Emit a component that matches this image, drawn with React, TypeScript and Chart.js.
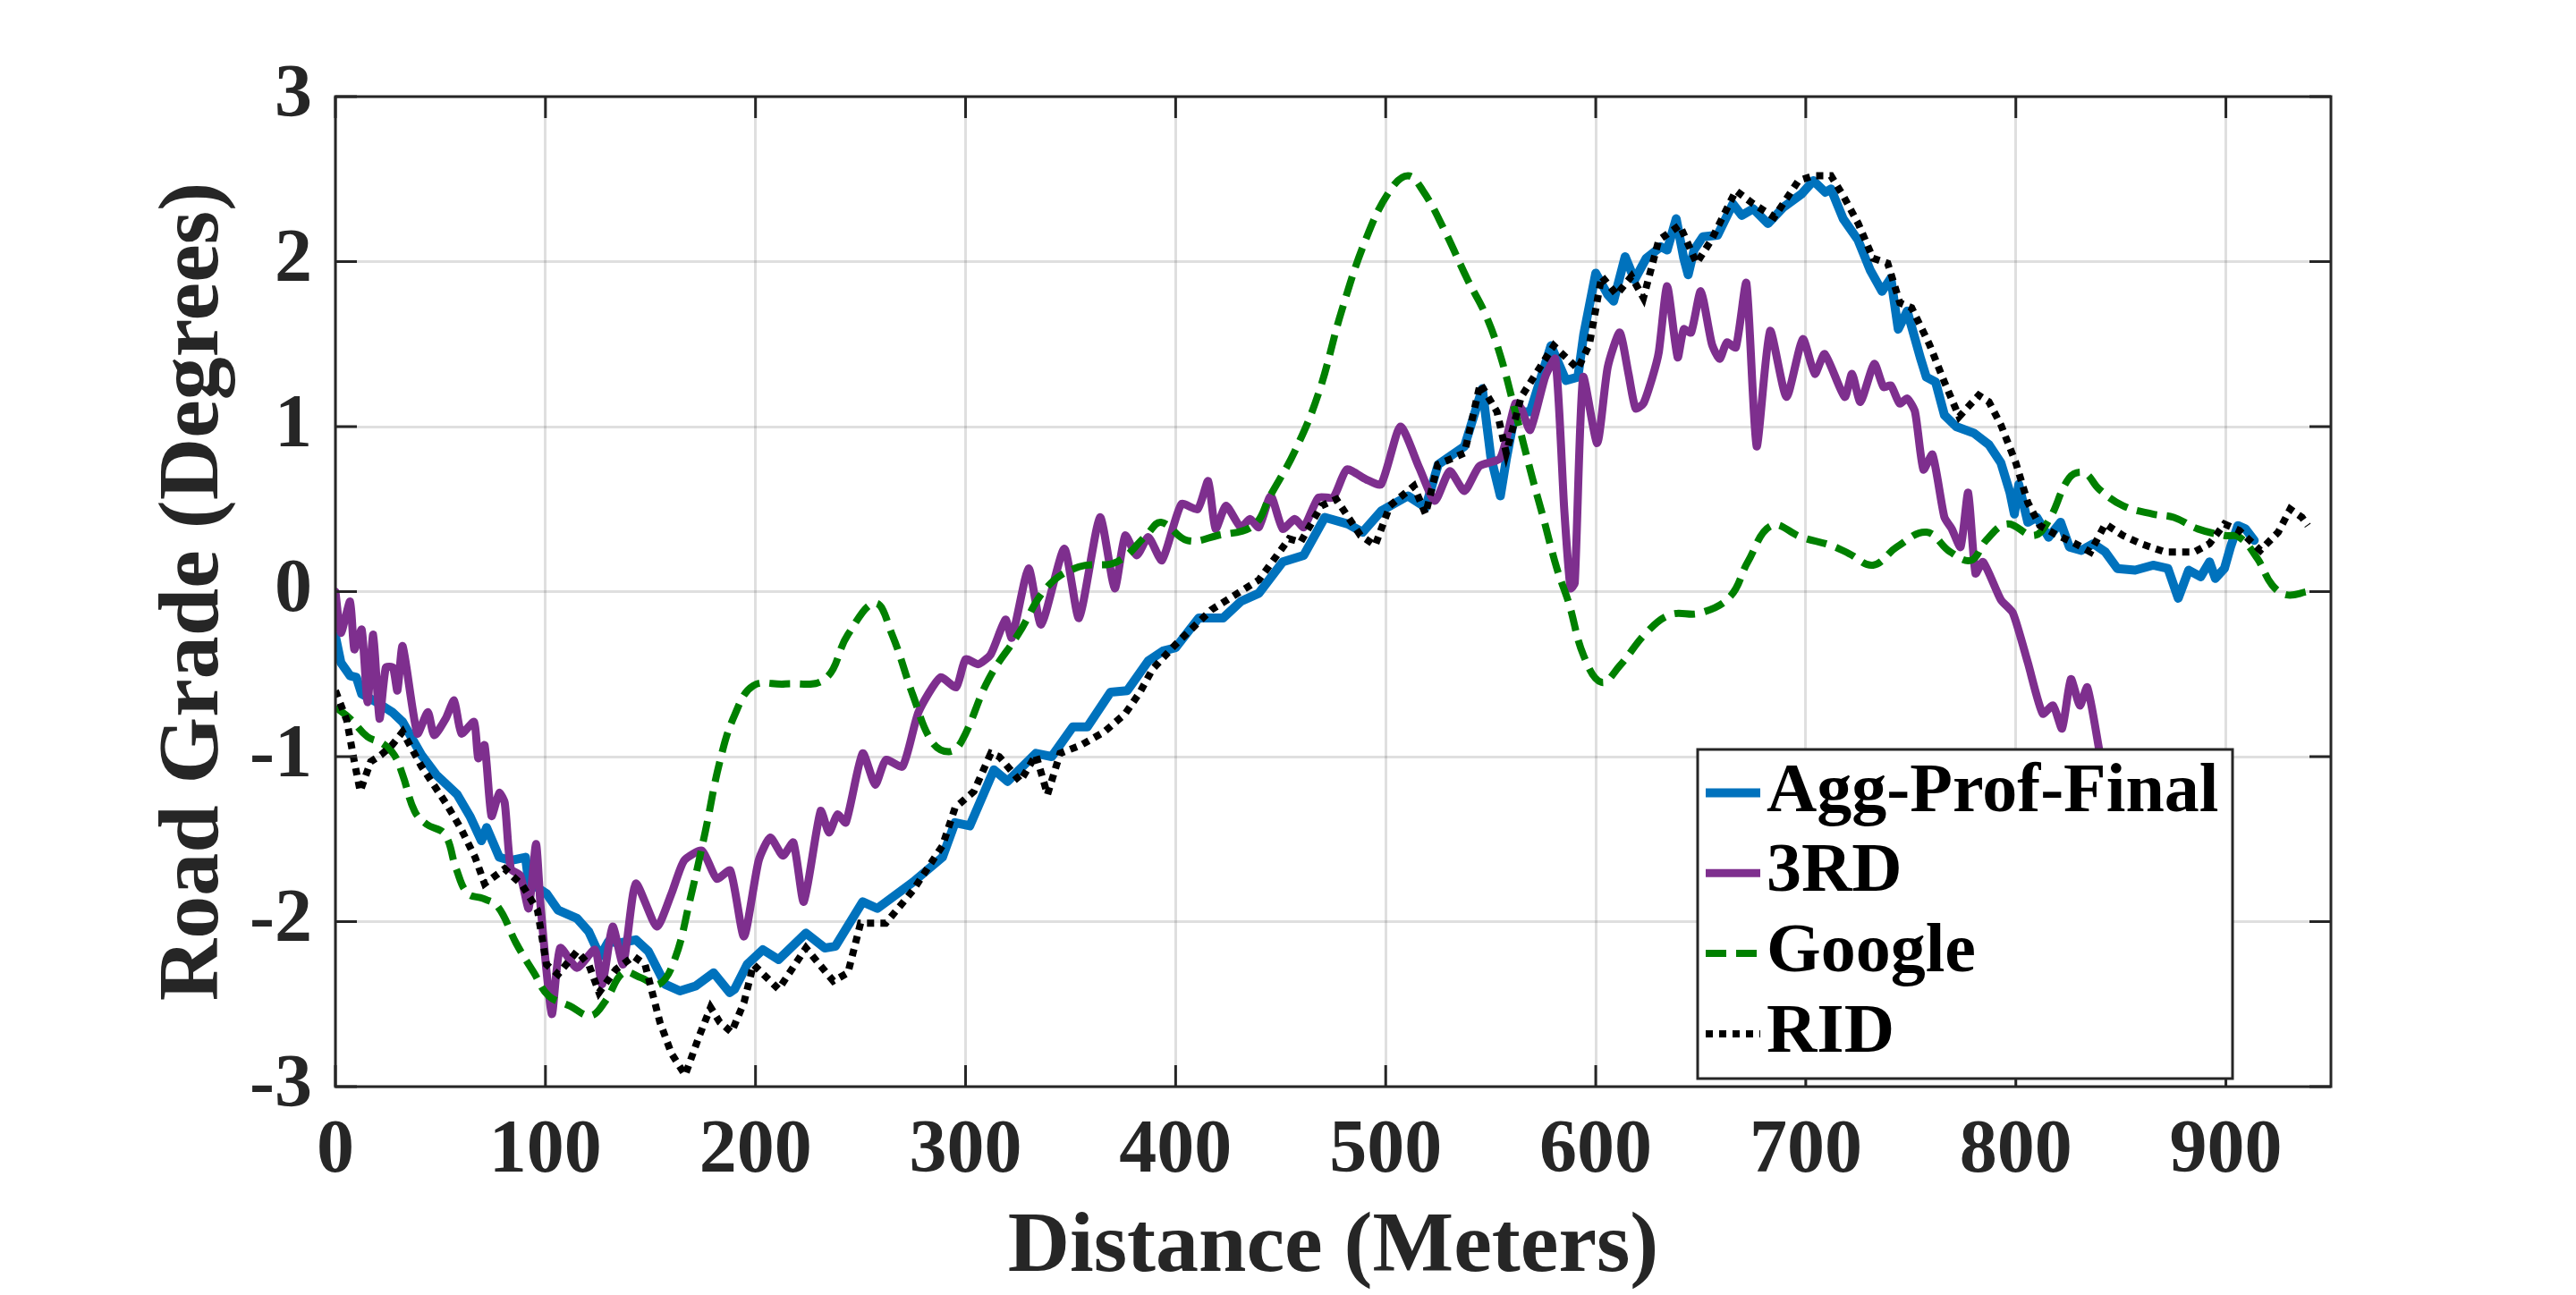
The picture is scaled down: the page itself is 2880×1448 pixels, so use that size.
import { useEffect, useRef } from "react";
import { Chart, registerables } from "chart.js";
import type { ChartConfiguration, Plugin } from "chart.js";

Chart.register(...registerables);

// Distance (m) / road grade (deg)
const aggDist = [
  0, 2.6, 7, 10, 12.5, 19.6, 27, 32, 41, 48, 58, 64, 69.5, 72, 78, 83.5, 90.5, 92, 100.5, 106, 115, 120.6, 126, 130,
  135, 143, 149, 157, 164, 171.5, 180, 187.7, 190, 196, 203.5, 211, 224, 233, 238, 251, 258, 275, 289, 295, 302,
  313.5, 320, 333.5, 341, 351, 358, 369, 377, 387, 394, 400, 411, 422.6, 431, 439.6, 451, 461, 471, 482, 489, 498,
  510.6, 519, 525, 537.5, 546, 550, 554.6, 557.4, 561.7, 568.8, 578.7, 585.8, 591.5, 594.3, 600, 605.7, 608.5, 614,
  618.5, 624, 631, 634, 638.3, 641.9, 644, 646.8, 651, 658, 665.3, 669.5, 675, 682, 689.4, 698, 703.6, 709.3, 712,
  717.8, 724.9, 730.6, 736.3, 740.5, 744, 748.3, 754.7, 757.4, 761.8, 766, 771.6, 780.1, 787.2, 792.9, 797.2, 799.3,
  801.4, 805.7, 810, 815.6, 821.3, 825.5, 831.2, 836.9, 842.6, 848.3, 856.8, 865.3, 872.4, 877.3, 882.3, 888, 892.2,
  895, 899.3, 902.2, 905.7, 909.3, 913.5,
];
const aggGrade = [
  -0.27, -0.43, -0.51, -0.52, -0.62, -0.67, -0.73, -0.79, -0.99, -1.11, -1.23, -1.36, -1.51, -1.43, -1.61, -1.63,
  -1.61, -1.76, -1.83, -1.93, -1.98, -2.06, -2.21, -2.12, -2.13, -2.11, -2.18, -2.38, -2.42, -2.39, -2.31, -2.43,
  -2.41, -2.26, -2.17, -2.23, -2.07, -2.16, -2.15, -1.88, -1.92, -1.76, -1.61, -1.4, -1.42, -1.08, -1.15, -0.98, -1.0,
  -0.82, -0.82, -0.61, -0.6, -0.42, -0.36, -0.34, -0.16, -0.16, -0.06, -0.01, 0.18, 0.22, 0.45, 0.41, 0.36, 0.49,
  0.58, 0.51, 0.77, 0.88, 1.23, 0.82, 0.58, 0.8, 1.09, 1.09, 1.49, 1.28, 1.3, 1.56, 1.93, 1.8, 1.76, 2.03, 1.89, 2.02,
  2.09, 2.07, 2.26, 2.02, 1.92, 2.07, 2.15, 2.16, 2.35, 2.28, 2.32, 2.23, 2.33, 2.41, 2.49, 2.42, 2.44, 2.26, 2.13,
  1.95, 1.82, 1.9, 1.59, 1.7, 1.41, 1.3, 1.27, 1.07, 1.0, 0.96, 0.89, 0.78, 0.6, 0.47, 0.65, 0.42, 0.45, 0.33, 0.42,
  0.27, 0.25, 0.29, 0.24, 0.14, 0.13, 0.16, 0.14, -0.04, 0.13, 0.09, 0.18, 0.08, 0.14, 0.27, 0.4, 0.38, 0.31,
];

const thirdDist = [
  0, 2.6, 7, 9, 12.5, 15.3, 18, 21, 24, 27.4, 29.5, 32, 39, 44, 47, 52.5, 56.5, 60, 66, 68, 71, 74.3, 78, 80.6, 83.5,
  88, 92, 95.5, 97.7, 103, 107, 115, 123.5, 127, 132, 137, 143, 153, 160, 166, 174.5, 181.5, 188, 194.5, 201.5, 207,
  213, 218, 223, 231, 235, 239, 243, 251, 257, 262, 270, 277.6, 288, 295.5, 300, 306, 312, 319, 322, 330, 336, 347,
  354, 364, 371, 376, 381.5, 387, 393.5, 402.7, 410.5, 415.5, 419, 424, 431, 435.4, 439.6, 445.3, 451, 456.7, 461,
  468, 475, 481.5, 490.7, 497.8, 507, 516, 523.4, 530.5, 537.5, 544.6, 554.6, 561.7, 564.5, 568.8, 575.9, 580.8, 585,
  588, 590, 594, 600.7, 605.7, 611.4, 615.6, 619, 622.7, 627, 630, 634, 639, 641.9, 645.4, 650, 655.3, 659, 662.4,
  666.7, 671.7, 676.6, 683, 690.8, 698.6, 704.3, 709, 718.5, 722, 726, 732.6, 737, 740.5, 744.7, 748.3, 752, 756,
  760.3, 766, 769.5, 773.7, 777.3, 780.8, 784.4, 792.9, 798.6, 805.7, 812.8, 817.7, 822, 826.2, 830.5, 834, 839.7,
  843,
];
const thirdGrade = [
  0.0, -0.25, -0.06, -0.35, -0.23, -0.67, -0.26, -0.77, -0.46, -0.46, -0.6, -0.33, -0.86, -0.73, -0.87, -0.77, -0.66,
  -0.86, -0.79, -1.01, -0.93, -1.36, -1.22, -1.28, -1.68, -1.72, -1.92, -1.53, -1.91, -2.56, -2.16, -2.28, -2.17,
  -2.38, -2.03, -2.26, -1.77, -2.03, -1.83, -1.63, -1.57, -1.74, -1.69, -2.09, -1.63, -1.49, -1.6, -1.52, -1.88,
  -1.33, -1.46, -1.35, -1.4, -0.98, -1.17, -1.02, -1.06, -0.73, -0.52, -0.58, -0.41, -0.44, -0.38, -0.17, -0.28, 0.14,
  -0.2, 0.26, -0.16, 0.45, 0.02, 0.34, 0.22, 0.33, 0.19, 0.53, 0.5, 0.67, 0.38, 0.52, 0.39, 0.44, 0.39, 0.58, 0.38,
  0.44, 0.39, 0.57, 0.57, 0.74, 0.68, 0.65, 1.0, 0.75, 0.55, 0.73, 0.61, 0.76, 0.81, 1.14, 1.11, 0.98, 1.3, 1.41, 0.5,
  0.02, 0.05, 1.3, 0.9, 1.36, 1.57, 1.32, 1.11, 1.14, 1.3, 1.45, 1.85, 1.42, 1.59, 1.57, 1.82, 1.5, 1.41, 1.51, 1.48,
  1.87, 0.88, 1.58, 1.18, 1.53, 1.32, 1.44, 1.18, 1.32, 1.15, 1.38, 1.24, 1.25, 1.14, 1.17, 1.09, 0.74, 0.83, 0.45,
  0.38, 0.27, 0.6, 0.11, 0.18, -0.05, -0.13, -0.43, -0.74, -0.69, -0.83, -0.53, -0.69, -0.58, -0.96, -1.2,
];

const googleDist = [
  0, 7, 15.3, 22.4, 28, 32, 37.7, 43.4, 52, 57.5, 63, 70.3, 77.4, 86, 94.5, 101.5, 111.5, 121.5, 128.6, 137, 145.5,
  154, 161.5, 168.6, 176, 183, 190, 199, 214, 233, 244, 257, 265, 275, 284, 292, 298, 311, 325, 339, 354, 372, 386,
  393, 405.6, 420, 437, 445, 456.7, 468, 479, 490.7, 502, 510.6, 517.7, 527.6, 539, 547.5, 554.6, 561.7, 570, 575,
  581.5, 587.2, 594.3, 602.8, 611.4, 624, 635.5, 649.7, 664, 672.4, 683.7, 697.9, 712, 720.6, 732, 743.3, 757.5,
  768.8, 778.7, 785.8, 795.7, 808.5, 815.6, 825.5, 832.6, 839.7, 851.1, 865.3, 875.2, 886.6, 899.3, 906.4, 915, 922,
  929, 939,
];
const googleGrade = [
  -0.7, -0.77, -0.88, -0.92, -0.99, -1.11, -1.33, -1.41, -1.47, -1.68, -1.83, -1.86, -1.91, -2.13, -2.31, -2.45,
  -2.51, -2.57, -2.48, -2.31, -2.34, -2.38, -2.23, -1.88, -1.46, -1.03, -0.75, -0.57, -0.56, -0.53, -0.26, -0.07,
  -0.26, -0.63, -0.91, -0.97, -0.91, -0.53, -0.26, 0.03, 0.15, 0.18, 0.34, 0.42, 0.31, 0.34, 0.4, 0.58, 0.85, 1.2,
  1.7, 2.14, 2.43, 2.52, 2.43, 2.2, 1.89, 1.68, 1.43, 1.09, 0.68, 0.45, 0.14, -0.07, -0.39, -0.55, -0.45, -0.25, -0.14,
  -0.13, -0.03, 0.18, 0.4, 0.33, 0.28, 0.23, 0.16, 0.27, 0.36, 0.24, 0.19, 0.31, 0.41, 0.34, 0.43, 0.69, 0.72, 0.62,
  0.52, 0.47, 0.45, 0.38, 0.34, 0.33, 0.2, 0.04, -0.02, 0.0,
];

const ridDist = [
  0, 5.4, 9, 11.8, 16.8, 21.7, 27, 32, 41, 52.5, 59.5, 66.5, 71, 80.6, 89, 96.2, 100.5, 106, 115, 120.6, 125.5, 133.5,
  142, 147.4, 154.5, 160, 166.5, 173, 178.6, 183, 188.6, 194.5, 199, 211, 224, 237, 244, 250, 262, 275, 289, 295, 304,
  312, 316, 326, 333.5, 339, 345, 355, 366, 376, 383, 389, 400, 417, 439.6, 454, 459.5, 469.4, 476.5, 488, 495, 502,
  513.4, 519, 524.8, 537.5, 545, 553, 557.4, 564.5, 580, 591.5, 597, 602.8, 610, 617, 622.7, 630, 640, 648, 655,
  666.7, 675, 685, 696.5, 703.6, 712, 717.8, 725, 732, 739, 744.8, 750.4, 758.8, 766, 773, 782.3, 787.2, 792.9, 800,
  805.7, 811.4, 818.5, 828.4, 835.5, 842.6, 851, 859.6, 871, 885, 892.2, 899.3, 906.4, 916.4, 924.9, 930.6, 936.2,
  939,
];
const ridGrade = [
  -0.6, -0.78, -1.03, -1.21, -1.03, -0.99, -0.93, -0.85, -1.06, -1.28, -1.43, -1.61, -1.77, -1.68, -1.78, -1.93,
  -2.26, -2.32, -2.18, -2.26, -2.43, -2.29, -2.21, -2.26, -2.61, -2.8, -2.93, -2.7, -2.52, -2.61, -2.67, -2.49, -2.26,
  -2.41, -2.16, -2.36, -2.31, -2.01, -2.01, -1.81, -1.54, -1.31, -1.21, -0.98, -1.0, -1.15, -0.99, -1.23, -0.98,
  -0.93, -0.85, -0.74, -0.61, -0.47, -0.32, -0.11, 0.07, 0.32, 0.3, 0.52, 0.56, 0.34, 0.28, 0.52, 0.64, 0.47, 0.77,
  0.84, 1.26, 1.09, 0.84, 1.18, 1.49, 1.35, 1.5, 1.91, 1.8, 1.91, 1.78, 2.13, 2.22, 1.99, 2.13, 2.43, 2.35, 2.27, 2.49,
  2.52, 2.52, 2.4, 2.23, 2.02, 1.99, 1.75, 1.72, 1.5, 1.27, 1.06, 1.19, 1.15, 1.01, 0.78, 0.54, 0.4, 0.35, 0.29, 0.24,
  0.41, 0.34, 0.29, 0.24, 0.24, 0.29, 0.41, 0.37, 0.25, 0.36, 0.5, 0.45, 0.4,
];

const seriesLabels = ["Agg-Prof-Final", "3RD", "Google", "RID"];
const xTickValues = [0, 100, 200, 300, 400, 500, 600, 700, 800, 900];
const yTickValues = [-3, -2, -1, 0, 1, 2, 3];

const FONT = "'Liberation Serif', 'Times New Roman', serif";
const AXIS_COLOR = "#262626";
const TICK_LEN = 24;

const toPoints = (xs: number[], ys: number[]) => xs.map((x, i) => ({ x, y: ys[i] }));

// MATLAB style box with inward ticks on all four sides
const axesBoxPlugin: Plugin<"line"> = {
  id: "axesBox",
  afterDatasetsDraw(chart) {
    const { ctx, chartArea: a, scales } = chart;
    ctx.save();
    ctx.setLineDash([]);
    ctx.strokeStyle = AXIS_COLOR;
    ctx.lineWidth = 3;
    ctx.beginPath();
    for (const v of xTickValues) {
      const px = scales.x.getPixelForValue(v);
      ctx.moveTo(px, a.bottom);
      ctx.lineTo(px, a.bottom - TICK_LEN);
      ctx.moveTo(px, a.top);
      ctx.lineTo(px, a.top + TICK_LEN);
    }
    for (const v of yTickValues) {
      const py = scales.y.getPixelForValue(v);
      ctx.moveTo(a.left, py);
      ctx.lineTo(a.left + TICK_LEN, py);
      ctx.moveTo(a.right, py);
      ctx.lineTo(a.right - TICK_LEN, py);
    }
    ctx.stroke();
    ctx.strokeRect(a.left, a.top, a.right - a.left, a.bottom - a.top);
    ctx.restore();
  },
};

// legend box in the lower right of the axes
const boxLegendPlugin: Plugin<"line"> = {
  id: "boxLegend",
  afterDraw(chart) {
    const { ctx, chartArea: a } = chart;
    const right = a.right - 110;
    const left = right - 598;
    const bottom = a.bottom - 9;
    const top = bottom - 368;
    ctx.save();
    ctx.fillStyle = "#ffffff";
    ctx.fillRect(left, top, right - left, bottom - top);
    ctx.setLineDash([]);
    ctx.strokeStyle = AXIS_COLOR;
    ctx.lineWidth = 3;
    ctx.strokeRect(left, top, right - left, bottom - top);
    ctx.font = `bold 78px ${FONT}`;
    ctx.textBaseline = "middle";
    ctx.textAlign = "left";
    chart.data.datasets.forEach((ds: any, i) => {
      const cy = top + 48.5 + i * 89.8;
      ctx.beginPath();
      ctx.strokeStyle = ds.borderColor;
      ctx.lineWidth = ds.borderWidth;
      ctx.lineCap = "butt";
      ctx.setLineDash(ds.borderDash ?? []);
      ctx.moveTo(left + 9, cy);
      ctx.lineTo(left + 70, cy);
      ctx.stroke();
      ctx.setLineDash([]);
      ctx.fillStyle = "#000000";
      ctx.fillText(String(ds.label), left + 77, cy);
    });
    ctx.restore();
  },
};

export default function App() {
  const canvasRef = useRef<HTMLCanvasElement | null>(null);

  useEffect(() => {
    if (!canvasRef.current) return;

    const config: ChartConfiguration<"line"> = {
      type: "line",
      data: {
        datasets: [
          {
            label: seriesLabels[0],
            data: toPoints(aggDist, aggGrade),
            borderColor: "#0072BD",
            borderWidth: 10,
            borderJoinStyle: "round",
            borderCapStyle: "round",
            tension: 0,
            pointRadius: 0,
            order: 3,
          },
          {
            label: seriesLabels[1],
            data: toPoints(thirdDist, thirdGrade),
            borderColor: "#7E2F8E",
            borderWidth: 9,
            borderJoinStyle: "round",
            borderCapStyle: "round",
            tension: 0.2,
            pointRadius: 0,
            order: 2,
          },
          {
            label: seriesLabels[2],
            data: toPoints(googleDist, googleGrade),
            borderColor: "#008000",
            borderWidth: 8,
            borderDash: [23, 11],
            tension: 0.4,
            pointRadius: 0,
            order: 1,
          },
          {
            label: seriesLabels[3],
            data: toPoints(ridDist, ridGrade),
            borderColor: "#000000",
            borderWidth: 8,
            borderDash: [8, 7],
            borderCapStyle: "butt",
            tension: 0,
            pointRadius: 0,
            order: 0,
          },
        ],
      },
      options: {
        animation: false,
        responsive: true,
        maintainAspectRatio: false,
        devicePixelRatio: 1,
        layout: { padding: { left: 0, top: 108, right: 274, bottom: 0 } },
        plugins: {
          legend: { display: false },
          tooltip: { enabled: false },
        },
        scales: {
          x: {
            type: "linear",
            min: 0,
            max: 950,
            afterBuildTicks: (scale) => {
              scale.ticks = xTickValues.map((value) => ({ value }));
            },
            afterFit: (scale) => {
              scale.height = 233;
            },
            grid: { color: "rgba(38,38,38,0.15)", lineWidth: 3, drawTicks: false },
            border: { display: false },
            ticks: {
              padding: 23,
              color: AXIS_COLOR,
              maxRotation: 0,
              font: { family: FONT, size: 84, weight: "bold", lineHeight: 1.2 },
            },
            title: {
              display: true,
              text: "Distance (Meters)",
              color: AXIS_COLOR,
              font: { family: FONT, size: 96, weight: "bold", lineHeight: 1 },
              padding: { top: 0, bottom: 4 },
            },
          },
          y: {
            type: "linear",
            min: -3,
            max: 3,
            afterBuildTicks: (scale) => {
              scale.ticks = yTickValues.map((value) => ({ value }));
            },
            afterFit: (scale) => {
              scale.width = 375;
            },
            grid: { color: "rgba(38,38,38,0.15)", lineWidth: 3, drawTicks: false },
            border: { display: false },
            ticks: {
              padding: 26,
              color: AXIS_COLOR,
              font: { family: FONT, size: 84, weight: "bold", lineHeight: 1.2 },
            },
            title: {
              display: true,
              text: "Road Grade (Degrees)",
              color: AXIS_COLOR,
              font: { family: FONT, size: 96, weight: "bold", lineHeight: 1 },
              padding: { top: 170, bottom: 0 },
            },
          },
        },
      },
      plugins: [axesBoxPlugin, boxLegendPlugin],
    };

    const chart = new Chart(canvasRef.current, config);
    return () => {
      chart.destroy();
    };
  }, []);

  return (
    <div style={{ position: "absolute", left: 0, top: 0, width: 2880, height: 1448, background: "#ffffff" }}>
      <canvas ref={canvasRef} />
    </div>
  );
}
